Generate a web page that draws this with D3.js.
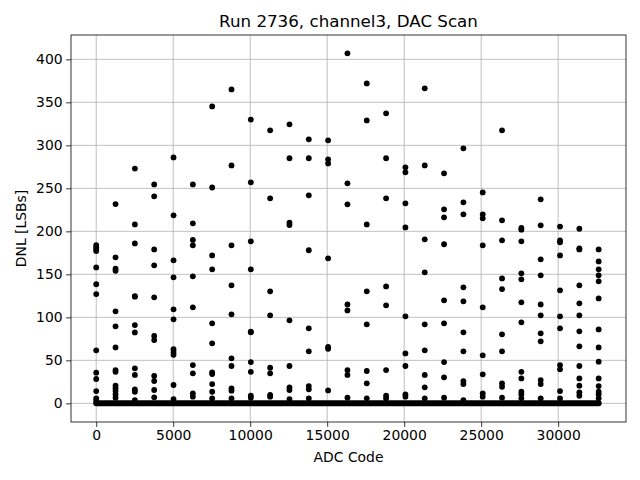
<!DOCTYPE html>
<html><head><meta charset="utf-8">
<script src="https://cdn.jsdelivr.net/npm/d3@7"></script>
<style>body{margin:0;background:#fff}svg{display:block}text{font-family:"DejaVu Sans",sans-serif}</style>
</head><body>
<script>
// ---- data ----
const title = "Run 2736, channel3, DAC Scan";
const xLabel = "ADC Code";
const yLabel = "DNL [LSBs]";
const xTicks = [0, 5000, 10000, 15000, 20000, 25000, 30000];
const yTicks = [0, 50, 100, 150, 200, 250, 300, 350, 400];
// codes where large DNL spikes occur
const spikeCodes = [0,1255,2510,3765,5020,6275,7530,8785,10040,11295,12550,13805,15060,16315,
  17570,18825,20080,21335,22590,23845,25100,26355,27610,28865,30120,31375,32630];
// DNL values at each spike code
const spikeValues = [
  [184,181.5,179,177,158,138.5,127,61.6,35.6,28.3,14.3,5.8,3],
  [231.7,169.8,156.5,154.2,107,89.5,65,38.7,36.7,20.5,17.4,14.3,10.5,6.5],
  [273,208,186,124.7,124,91,82.5,40.7,33,16.3,13.5,3.8],
  [254.6,240.7,179,160.5,123.3,78.3,73.6,32,26,15.5,7],
  [286,218.6,166.3,146.5,109.3,97.7,63,59.6,56.5,21.3,5],
  [254.6,209.3,190,183.7,147.7,111.6,44.5,34.9,11.6,7.7],
  [345.3,251,172,155.8,93,69.8,36,34,22.4,13.5,5.8],
  [365,276.7,183.7,137.2,103.5,52.3,43.4,17.4,14.7,5.8],
  [330,257,188.4,155.8,83.3,82.6,48,36.7,8.8,6.5],
  [317.4,238.4,130.2,102.3,41.4,34.9,9.7,7.7],
  [324.4,285,210,207.3,96.5,43.4,18.6,15.5,5],
  [307,285,241.9,178,87.2,60.5,20.1,16.3,5.8],
  [305.8,283.7,279,168.6,65.5,63.5,15],
  [407,255.8,231.4,115,108,38.7,33,6.5],
  [372,329,208,130.2,91.9,37.6,23.3,5.8],
  [337.2,285,238.4,136,114,38.7,8.8,5.8],
  [274.4,268.6,232.6,204.5,101.2,58,43.4,10.5,7.7],
  [366.3,276.7,190.7,152.3,91.9,61.6,33,18.6,5.8],
  [267.4,225.6,216.3,185,119.8,93,48,30.2,6.5],
  [296.5,233.7,219.8,134.9,118.6,82.6,60.5,25.9,22.4,3.8],
  [245.3,219.8,215.1,183.7,111.6,55.8,33.7,11.6,7.7],
  [317.4,212.8,189.5,145.3,132.9,80.2,60.5,23.3,19.3,6.5],
  [204,201.9,188.4,151.2,144.2,117.4,94.2,36.7,29,13.5,10.5,5.8],
  [237.2,207,167.4,148.8,115,102.3,81.4,72.1,27,22.4,5.8],
  [205.5,189.5,187.2,172,131.4,101.2,87.2,44.5,39.6,14.3,5.8],
  [203,180.2,179,137.2,116.3,102.3,83.7,66.3,43.4,29,20.5,12.8,8.8],
  [179,165,155.8,148.8,141.9,122,86,65,48.4,29,20.1,13.5,10.5,5.8]
];
// all remaining codes sit at DNL ~ 0 (dense band of points)
const zeroBandCodes = [0, 32630];
const zeroBandValue = 0;

// ---- chart ----
const W = 640, H = 480;
const m = {left: 71, right: 626, top: 35, bottom: 422};
const svg = d3.select("body").append("svg").attr("width", W).attr("height", H);
const x = d3.scaleLinear().domain([-1638, 34405]).range([m.left, m.right]);
const y = d3.scaleLinear().domain([-21.7, 428.3]).range([m.bottom, m.top]);

// grid
const g = svg.append("g");
g.selectAll(".gx").data(xTicks).join("line")
  .attr("x1", d => x(d)).attr("x2", d => x(d)).attr("y1", m.top).attr("y2", m.bottom)
  .attr("stroke", "#b0b0b0").attr("stroke-width", 0.8);
g.selectAll(".gy").data(yTicks).join("line")
  .attr("y1", d => y(d)).attr("y2", d => y(d)).attr("x1", m.left).attr("x2", m.right)
  .attr("stroke", "#b0b0b0").attr("stroke-width", 0.8);

// points
const pts = [];
spikeCodes.forEach((c, i) => spikeValues[i].forEach(v => pts.push([c, v])));
const clipId = "clip";
svg.append("clipPath").attr("id", clipId).append("rect")
  .attr("x", m.left).attr("y", m.top).attr("width", m.right - m.left).attr("height", m.bottom - m.top);
const pg = svg.append("g").attr("clip-path", `url(#${clipId})`);
pg.append("line")
  .attr("x1", x(zeroBandCodes[0])).attr("x2", x(zeroBandCodes[1]))
  .attr("y1", y(zeroBandValue)).attr("y2", y(zeroBandValue))
  .attr("stroke", "#000").attr("stroke-width", 6).attr("stroke-linecap", "round");
pg.selectAll("circle").data(pts).join("circle")
  .attr("cx", d => x(d[0])).attr("cy", d => y(d[1])).attr("r", 2.9).attr("fill", "#000");

// axes
const xa = svg.append("g").attr("transform", `translate(0,${m.bottom})`)
  .call(d3.axisBottom(x).tickValues(xTicks).tickFormat(d3.format("d")).tickSizeOuter(0).tickSize(4.9).tickPadding(3.5));
const ya = svg.append("g").attr("transform", `translate(${m.left},0)`)
  .call(d3.axisLeft(y).tickValues(yTicks).tickFormat(d3.format("d")).tickSizeOuter(0).tickSize(4.9).tickPadding(3.5));
[xa, ya].forEach(a => {
  a.select(".domain").remove();
  a.selectAll("text").attr("font-size", 13.9).attr("font-family", "DejaVu Sans").attr("fill", "#000");
  a.selectAll("line").attr("stroke", "#000").attr("stroke-width", 0.8);
});
svg.append("rect").attr("x", m.left).attr("y", m.top).attr("width", m.right - m.left).attr("height", m.bottom - m.top)
  .attr("fill", "none").attr("stroke", "#000").attr("stroke-width", 0.8);

svg.append("text").attr("x", (m.left + m.right) / 2).attr("y", 27).attr("text-anchor", "middle")
  .attr("font-size", 16.7).text(title);
svg.append("text").attr("x", (m.left + m.right) / 2).attr("y", 462).attr("text-anchor", "middle")
  .attr("font-size", 13.9).text(xLabel);
svg.append("text").attr("transform", `translate(26,${(m.top + m.bottom) / 2}) rotate(-90)`)
  .attr("text-anchor", "middle").attr("font-size", 13.9).text(yLabel);
</script>
</body></html>
